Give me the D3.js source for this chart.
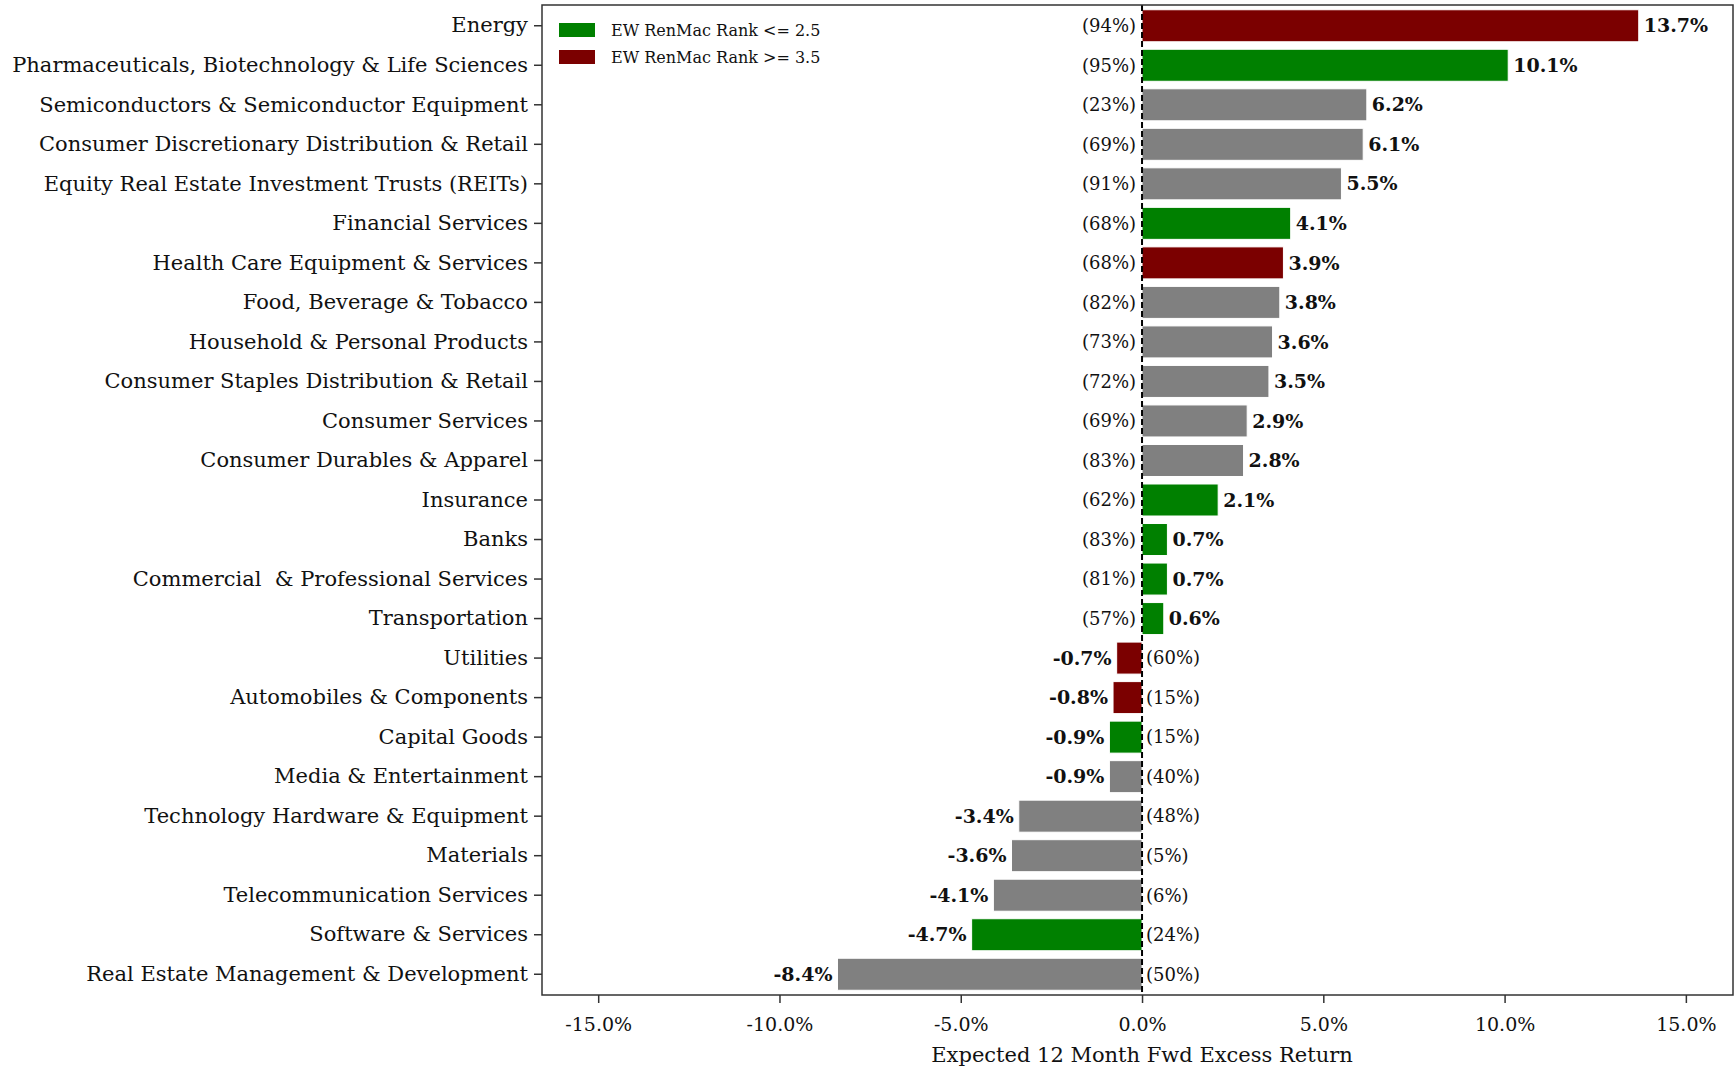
<!DOCTYPE html>
<html>
<head>
<meta charset="utf-8">
<script src="https://cdn.jsdelivr.net/npm/d3@7"></script>
<style>
  html, body { margin: 0; padding: 0; background: #fff; }
  svg { display: block; }
  text { font-family: "DejaVu Serif", "Liberation Serif", serif; fill: #111; }
</style>
</head>
<body>
<svg id="chart" width="1735" height="1069"></svg>
<script>
// ---- data ----
const categories = [
  "Energy",
  "Pharmaceuticals, Biotechnology & Life Sciences",
  "Semiconductors & Semiconductor Equipment",
  "Consumer Discretionary Distribution & Retail",
  "Equity Real Estate Investment Trusts (REITs)",
  "Financial Services",
  "Health Care Equipment & Services",
  "Food, Beverage & Tobacco",
  "Household & Personal Products",
  "Consumer Staples Distribution & Retail",
  "Consumer Services",
  "Consumer Durables & Apparel",
  "Insurance",
  "Banks",
  "Commercial  & Professional Services",
  "Transportation",
  "Utilities",
  "Automobiles & Components",
  "Capital Goods",
  "Media & Entertainment",
  "Technology Hardware & Equipment",
  "Materials",
  "Telecommunication Services",
  "Software & Services",
  "Real Estate Management & Development"
];
const returns = [13.7, 10.1, 6.2, 6.1, 5.5, 4.1, 3.9, 3.8, 3.6, 3.5, 2.9, 2.8, 2.1, 0.7, 0.7, 0.6,
                 -0.7, -0.8, -0.9, -0.9, -3.4, -3.6, -4.1, -4.7, -8.4];
const pctLabels = [94, 95, 23, 69, 91, 68, 68, 82, 73, 72, 69, 83, 62, 83, 81, 57,
                   60, 15, 15, 40, 48, 5, 6, 24, 50];
// rank group: "low" = EW RenMac Rank <= 2.5, "high" = >= 3.5, "mid" = neither
const rankGroup = ["high", "low", "mid", "mid", "mid", "low", "high", "mid", "mid", "mid", "mid", "mid", "low", "low", "low", "low",
                   "high", "high", "low", "mid", "mid", "mid", "mid", "low", "mid"];
const xTicks = [-15, -10, -5, 0, 5, 10, 15];
const legendItems = [
  { key: "low", label: "EW RenMac Rank <= 2.5" },
  { key: "high", label: "EW RenMac Rank >= 3.5" }
];
const xDomain = [-16.55, 16.3];
const xTitle = "Expected 12 Month Fwd Excess Return";

// ---- layout ----
const margin = { left: 542, right: 2, top: 5, bottom: 74 };
const W = 1735, H = 1069;
const svg = d3.select("#chart");
const innerW = W - margin.left - margin.right;
const innerH = H - margin.top - margin.bottom;

const locale = d3.formatLocale({ decimal: ".", thousands: ",", grouping: [3], currency: ["$", ""], minus: "-" });
const fmt1 = locale.format(".1f");

const color = d3.scaleOrdinal().domain(["low", "high", "mid"]).range(["#008000", "#7b0000", "#808080"]);

const x = d3.scaleLinear().domain(xDomain).range([margin.left, margin.left + innerW]);
const y = d3.scaleBand().domain(categories).range([margin.top, margin.top + innerH]).paddingInner(0.19).paddingOuter(0.12);

const rows = categories.map((c, i) => ({ cat: c, v: returns[i], p: pctLabels[i], g: rankGroup[i] }));

// bars
svg.append("g").selectAll("rect").data(rows).join("rect")
  .attr("x", d => x(Math.min(0, d.v)))
  .attr("width", d => Math.abs(x(d.v) - x(0)))
  .attr("y", d => y(d.cat))
  .attr("height", y.bandwidth())
  .attr("fill", d => color(d.g))
  .attr("stroke", "#ffffff")
  .attr("stroke-width", 1);

// zero line
svg.append("line")
  .attr("x1", x(0)).attr("x2", x(0))
  .attr("y1", margin.top).attr("y2", margin.top + innerH)
  .attr("stroke", "#000").attr("stroke-width", 2)
  .attr("stroke-dasharray", "6,3");

// value labels
svg.append("g").selectAll("text").data(rows).join("text")
  .attr("x", d => d.v >= 0 ? x(d.v) + 5 : x(d.v) - 5)
  .attr("y", d => y(d.cat) + y.bandwidth() / 2)
  .attr("dy", "0.35em")
  .attr("text-anchor", d => d.v >= 0 ? "start" : "end")
  .style("font-weight", "bold")
  .style("font-size", "19px")
  .text(d => fmt1(d.v) + "%");

// percentile labels
svg.append("g").selectAll("text").data(rows).join("text")
  .attr("x", d => d.v >= 0 ? x(0) - 6 : x(0) + 4)
  .attr("y", d => y(d.cat) + y.bandwidth() / 2)
  .attr("dy", "0.35em")
  .attr("text-anchor", d => d.v >= 0 ? "end" : "start")
  .style("font-size", "18px")
  .text(d => "(" + d.p + "%)");

// frame
svg.append("rect")
  .attr("x", margin.left).attr("y", margin.top)
  .attr("width", innerW).attr("height", innerH)
  .attr("fill", "none").attr("stroke", "#333").attr("stroke-width", 1.5);

// y axis
const yAxis = svg.append("g")
  .attr("transform", `translate(${margin.left},0)`)
  .call(d3.axisLeft(y).tickSize(8).tickPadding(6));
yAxis.select(".domain").remove();
yAxis.selectAll("line").attr("stroke", "#333").attr("stroke-width", 1.5);
yAxis.selectAll("text")
  .style("font-family", '"DejaVu Serif", serif')
  .style("font-size", "21px")
  .style("white-space", "pre")
  .attr("fill", "#111");

// x axis
const xAxis = svg.append("g")
  .attr("transform", `translate(0,${margin.top + innerH})`)
  .call(d3.axisBottom(x).tickValues(xTicks).tickSize(8).tickPadding(15).tickFormat(d => fmt1(d) + "%"));
xAxis.select(".domain").remove();
xAxis.selectAll("line").attr("stroke", "#333").attr("stroke-width", 1.5);
xAxis.selectAll("text")
  .style("font-family", '"DejaVu Serif", serif')
  .style("font-size", "19px")
  .attr("fill", "#111");

// x title
svg.append("text")
  .attr("x", x(0))
  .attr("y", margin.top + innerH + 67)
  .attr("text-anchor", "middle")
  .style("font-size", "21px")
  .text(xTitle);

// legend
const lg = svg.append("g").attr("transform", `translate(${margin.left + 17},${margin.top + 18})`);
legendItems.forEach((it, i) => {
  const g = lg.append("g").attr("transform", `translate(0,${i * 27})`);
  g.append("rect").attr("width", 36).attr("height", 14).attr("fill", color(it.key));
  g.append("text").attr("x", 52).attr("y", 7).attr("dy", "0.35em")
    .style("font-size", "16px").text(it.label);
});
</script>
</body>
</html>
